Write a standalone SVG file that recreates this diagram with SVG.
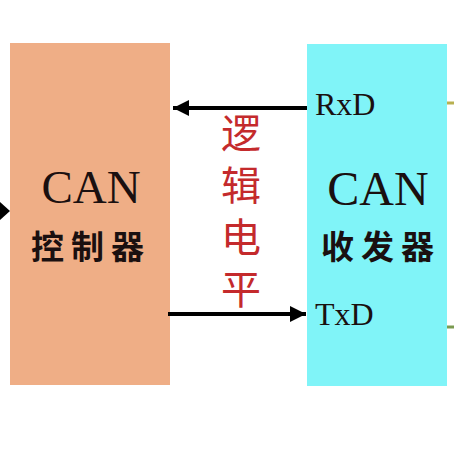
<svg xmlns="http://www.w3.org/2000/svg" width="454" height="454" viewBox="0 0 454 454">
  <style>
    .lat { font-family: "Liberation Serif", "Times New Roman", serif; fill: #1a1010; }
    .cjk { font-family: "Noto Sans CJK SC", sans-serif; font-weight: 700; fill: #1a1010; font-size: 33px; letter-spacing: 7px; }
    .red { font-family: "Noto Sans CJK SC", sans-serif; font-weight: 400; fill: #c42a2c; font-size: 40px; letter-spacing: 12px; writing-mode: vertical-rl; }
    .wire { stroke: #000; stroke-width: 4; fill: none; }
  </style>
  <defs>
    <marker id="ah" viewBox="0 0 10 10" refX="10" refY="5" markerWidth="4" markerHeight="4" orient="auto" markerUnits="strokeWidth">
      <path d="M0,0 L10,5 L0,10 Z" fill="#000"/>
    </marker>
  </defs>
  <rect width="454" height="454" fill="#fff"/>

  <g id="controller">
    <rect x="10" y="43" width="160" height="342" fill="#efae86"/>
    <text class="lat" x="91" y="203" font-size="47" text-anchor="middle">CAN</text>
    <text class="cjk" x="91" y="259" text-anchor="middle">控制器</text>
  </g>

  <g id="transceiver">
    <rect x="307" y="44" width="140" height="342" fill="#80f4f8"/>
    <text class="lat" x="378" y="205" font-size="48" text-anchor="middle">CAN</text>
    <text class="cjk" x="381" y="259" text-anchor="middle">收发器</text>
    <text class="lat" x="315" y="115" font-size="32">RxD</text>
    <text class="lat" x="315" y="325" font-size="32">TxD</text>
  </g>

  <g id="label-logic">
    <text class="red" x="241" y="113">逻辑电平</text>
  </g>

  <g id="connectors">
    <line class="wire" x1="307" y1="108" x2="173" y2="108" marker-end="url(#ah)"/>
    <line class="wire" x1="168" y1="314" x2="306" y2="314" marker-end="url(#ah)"/>
    <path d="M0,202 L10,211 L0,220 Z" fill="#000"/>
    <line x1="447" y1="103" x2="454" y2="103" stroke="#b8b050" stroke-width="3"/>
    <line x1="447" y1="327" x2="454" y2="327" stroke="#7a9a50" stroke-width="3"/>
  </g>
</svg>
